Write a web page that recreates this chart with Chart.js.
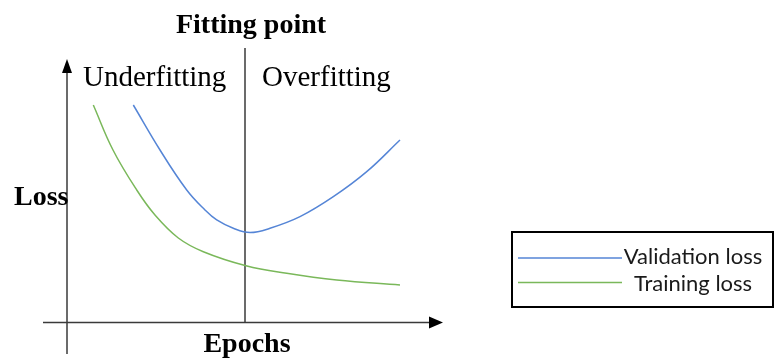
<!DOCTYPE html>
<html>
<head>
<meta charset="utf-8">
<title>Fitting point</title>
<script src="https://cdn.jsdelivr.net/npm/chart.js@4"></script>
<style>
  html, body { margin: 0; padding: 0; background: #fff; }
  canvas { display: block; }
</style>
</head>
<body>
<canvas id="fit-chart" width="775" height="358"></canvas>
<script>
// Epochs (x) and loss (y), arbitrary units
const validationEpochs = [22.58, 29.25, 35.93, 40.5, 43.43, 47.58, 51.75, 56.75, 64.25, 72.58, 80.93, 89.25];
const validationLoss   = [72.5, 57.5, 44.17, 37.5, 34.17, 31.4, 30.0, 31.4, 35.27, 41.93, 50.27, 60.83];

const trainingEpochs = [12.58, 17.5, 23.43, 28.0, 33.83, 40.08, 50.75, 60.93, 73.43, 89.25];
const trainingLoss   = [72.5, 57.5, 44.17, 35.83, 28.17, 23.6, 18.93, 16.4, 14.17, 12.5];

const seriesLabels = ['Validation loss', 'Training loss'];

// Axis positions (in data units)
const xRange = [0, 100];
const yRange = [-10.5, 91.5];
const lossAxisAt = 6;      // where the vertical Loss axis sits
const fittingPoint = 50.5; // epoch of the fitting point
const lossAxisTop = 87.8;  // arrow tip of the Loss axis

// Texts
const titleText = 'Fitting point';
const leftRegion = 'Underfitting';
const rightRegion = 'Overfitting';
const yAxisLabel = 'Loss';
const xAxisLabel = 'Epochs';

const serif = '"Liberation Serif", "DejaVu Serif", serif';

function toPoints(xs, ys) {
    return xs.map((x, i) => ({ x: x, y: ys[i] }));
}

// Draws the axes, arrows, the fitting line and all the texts
const sketchPlugin = {
    id: 'sketch',
    beforeDatasetsDraw(chart) {
        const ctx = chart.ctx;
        const xs = chart.scales.x;
        const ys = chart.scales.y;
        const ax = xs.getPixelForValue(lossAxisAt);
        const y0 = ys.getPixelForValue(0);
        const xEnd = xs.getPixelForValue(xRange[1]);
        const yTop = ys.getPixelForValue(lossAxisTop);
        const fx = xs.getPixelForValue(fittingPoint);

        ctx.save();
        ctx.strokeStyle = '#3a3a3a';
        ctx.fillStyle = '#000';
        ctx.lineWidth = 1.5;

        // Loss axis
        ctx.beginPath();
        ctx.moveTo(ax, ys.getPixelForValue(yRange[0]));
        ctx.lineTo(ax, yTop + 12);
        ctx.stroke();
        ctx.beginPath();
        ctx.moveTo(ax, yTop);
        ctx.lineTo(ax - 5, yTop + 14);
        ctx.lineTo(ax + 5, yTop + 14);
        ctx.closePath();
        ctx.fill();

        // Epochs axis
        ctx.beginPath();
        ctx.moveTo(xs.getPixelForValue(xRange[0]), y0);
        ctx.lineTo(xEnd - 12, y0);
        ctx.stroke();
        ctx.beginPath();
        ctx.moveTo(xEnd, y0);
        ctx.lineTo(xEnd - 14, y0 - 6);
        ctx.lineTo(xEnd - 14, y0 + 6);
        ctx.closePath();
        ctx.fill();

        // Fitting point line
        ctx.beginPath();
        ctx.moveTo(fx, ys.getPixelForValue(yRange[1]));
        ctx.lineTo(fx, y0);
        ctx.stroke();
        ctx.restore();
    },
    afterDraw(chart) {
        const ctx = chart.ctx;
        const xs = chart.scales.x;
        const fx = xs.getPixelForValue(fittingPoint);

        ctx.save();
        ctx.fillStyle = '#000';
        ctx.textBaseline = 'alphabetic';

        ctx.font = 'bold 28px ' + serif;
        ctx.textAlign = 'center';
        ctx.fillText(titleText, fx + 6, 33);
        ctx.fillText(xAxisLabel, fx + 2, 352);

        ctx.textAlign = 'left';
        ctx.fillText(yAxisLabel, 14, 205);

        ctx.font = '29px ' + serif;
        ctx.fillText(leftRegion, 83, 86);
        ctx.fillText(rightRegion, fx + 17, 86);

        // Legend box
        ctx.strokeStyle = '#000';
        ctx.lineWidth = 2;
        ctx.strokeRect(512, 232, 261, 75);

        const rows = [258, 282.5];
        const baselines = [264, 291];
        ctx.font = '22px Lato, "Liberation Sans", sans-serif';
        chart.data.datasets.forEach((ds, i) => {
            ctx.strokeStyle = ds.borderColor;
            ctx.lineWidth = 1.3;
            ctx.beginPath();
            ctx.moveTo(518, rows[i]);
            ctx.lineTo(622, rows[i]);
            ctx.stroke();
            ctx.fillStyle = '#1a1a1a';
            ctx.textAlign = 'center';
            ctx.fillText(ds.label, 693, baselines[i]);
        });
        ctx.restore();
    }
};

new Chart(document.getElementById('fit-chart'), {
    type: 'line',
    data: {
        datasets: [{
            label: seriesLabels[0],
            data: toPoints(validationEpochs, validationLoss),
            borderColor: '#5585d6',
            borderWidth: 1.5,
            pointRadius: 0,
            tension: 0.4,
            fill: false
        }, {
            label: seriesLabels[1],
            data: toPoints(trainingEpochs, trainingLoss),
            borderColor: '#7ab85a',
            borderWidth: 1.5,
            pointRadius: 0,
            tension: 0.4,
            fill: false
        }]
    },
    options: {
        responsive: false,
        animation: false,
        layout: { padding: { left: 43, right: 332, top: 48, bottom: 4 } },
        plugins: {
            legend: { display: false },
            tooltip: { enabled: false }
        },
        scales: {
            x: { type: 'linear', min: xRange[0], max: xRange[1], display: false },
            y: { type: 'linear', min: yRange[0], max: yRange[1], display: false }
        }
    },
    plugins: [sketchPlugin]
});
</script>
</body>
</html>
